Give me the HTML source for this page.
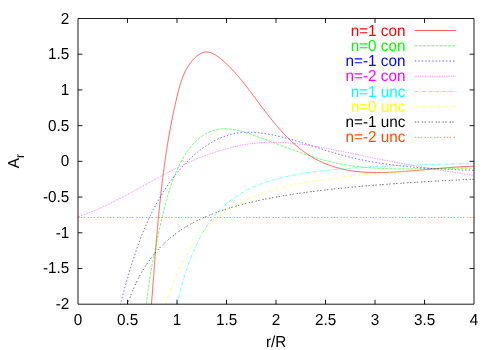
<!DOCTYPE html>
<html><head><meta charset="utf-8"><title>A_r vs r/R</title>
<style>html,body{margin:0;padding:0;background:#fff;}svg{display:block;will-change:transform;}text{font-family:"Liberation Sans",sans-serif;font-size:15.30px;text-rendering:geometricPrecision;}</style></head><body>
<svg width="500" height="350" viewBox="0 0 500 350">
<rect x="0" y="0" width="500" height="350" fill="#fff"/>
<defs><clipPath id="c"><rect x="78.00" y="18.50" width="396.00" height="285.70"/></clipPath></defs>
<g clip-path="url(#c)" fill="none" stroke-width="0.62" stroke-linejoin="round">
<path d="M150.87 311.99 L150.95 311.00 L151.03 310.01 L151.10 309.02 L151.18 308.03 L151.26 307.04 L151.33 306.05 L151.41 305.06 L151.49 304.06 L151.57 303.07 L151.64 302.08 L151.72 301.09 L151.79 300.10 L151.87 299.11 L151.95 298.12 L152.02 297.13 L152.10 296.14 L152.17 295.14 L152.25 294.15 L152.32 293.16 L152.40 292.17 L152.47 291.18 L152.55 290.19 L152.62 289.19 L152.70 288.20 L152.77 287.21 L152.85 286.22 L152.92 285.23 L153.00 284.23 L153.07 283.24 L153.15 282.25 L153.22 281.26 L153.30 280.26 L153.37 279.27 L153.45 278.28 L153.52 277.29 L153.60 276.30 L153.67 275.30 L153.75 274.31 L153.82 273.32 L153.90 272.33 L153.97 271.33 L154.05 270.34 L154.13 269.35 L154.20 268.36 L154.28 267.36 L154.35 266.37 L154.43 265.38 L154.51 264.38 L154.58 263.39 L154.66 262.40 L154.74 261.41 L154.81 260.41 L154.89 259.42 L154.97 258.43 L155.05 257.44 L155.13 256.44 L155.20 255.45 L155.28 254.46 L155.36 253.46 L155.44 252.47 L155.52 251.48 L155.60 250.49 L155.68 249.49 L155.76 248.50 L155.84 247.51 L155.92 246.52 L156.00 245.52 L156.08 244.53 L156.16 243.54 L156.25 242.55 L156.33 241.55 L156.41 240.56 L156.49 239.57 L156.58 238.58 L156.66 237.58 L156.75 236.59 L156.83 235.60 L156.92 234.61 L157.00 233.61 L157.09 232.62 L157.17 231.63 L157.26 230.64 L157.35 229.65 L157.44 228.65 L157.52 227.66 L157.61 226.67 L157.70 225.68 L157.79 224.69 L157.88 223.69 L157.97 222.70 L158.06 221.71 L158.16 220.72 L158.25 219.73 L158.34 218.74 L158.43 217.75 L158.53 216.75 L158.62 215.76 L158.72 214.77 L158.81 213.78 L158.91 212.79 L159.01 211.80 L159.10 210.81 L159.20 209.82 L159.30 208.83 L159.40 207.84 L159.50 206.84 L159.60 205.85 L159.70 204.86 L159.80 203.87 L159.91 202.88 L160.01 201.89 L160.11 200.90 L160.22 199.91 L160.32 198.92 L160.43 197.93 L160.54 196.94 L160.65 195.96 L160.75 194.97 L160.86 193.98 L160.97 192.99 L161.08 192.00 L161.20 191.01 L161.31 190.02 L161.42 189.03 L161.54 188.04 L161.65 187.05 L161.77 186.07 L161.88 185.08 L162.00 184.09 L162.12 183.10 L162.24 182.11 L162.36 181.13 L162.48 180.14 L162.60 179.15 L162.72 178.16 L162.84 177.18 L162.97 176.19 L163.09 175.20 L163.22 174.22 L163.35 173.23 L163.48 172.24 L163.60 171.26 L163.73 170.27 L163.87 169.28 L164.00 168.30 L164.13 167.31 L164.26 166.33 L164.40 165.34 L164.54 164.36 L164.67 163.37 L164.81 162.39 L164.95 161.40 L165.09 160.42 L165.23 159.43 L165.37 158.45 L165.52 157.46 L165.66 156.48 L165.81 155.50 L165.95 154.51 L166.10 153.53 L166.25 152.55 L166.40 151.56 L166.55 150.58 L166.70 149.60 L166.85 148.62 L167.01 147.63 L167.16 146.65 L167.32 145.67 L167.48 144.69 L167.64 143.71 L167.80 142.72 L167.96 141.74 L168.12 140.76 L168.29 139.78 L168.45 138.80 L168.62 137.82 L168.79 136.84 L168.96 135.86 L169.13 134.88 L169.30 133.90 L169.48 132.92 L169.65 131.95 L169.83 130.97 L170.01 129.99 L170.18 129.01 L170.37 128.03 L170.55 127.06 L170.73 126.08 L170.92 125.10 L171.10 124.13 L171.29 123.15 L171.48 122.17 L171.67 121.20 L171.86 120.22 L172.06 119.25 L172.25 118.27 L172.45 117.30 L172.65 116.32 L172.85 115.35 L173.05 114.38 L173.25 113.40 L173.46 112.43 L173.66 111.46 L173.87 110.48 L174.08 109.51 L174.29 108.54 L174.50 107.57 L174.72 106.60 L174.93 105.63 L175.15 104.66 L175.37 103.69 L175.59 102.72 L175.82 101.75 L176.04 100.78 L176.27 99.81 L176.49 98.84 L176.72 97.87 L176.96 96.91 L177.19 95.94 L177.42 94.97 L177.66 94.00 L177.90 93.04 L178.14 92.07 L178.39 91.11 L178.64 90.14 L178.89 89.18 L179.14 88.22 L179.41 87.26 L179.68 86.30 L179.95 85.35 L180.23 84.39 L180.52 83.44 L180.82 82.49 L181.13 81.54 L181.44 80.60 L181.77 79.66 L182.11 78.72 L182.46 77.79 L182.82 76.86 L183.19 75.93 L183.58 75.01 L183.98 74.09 L184.39 73.18 L184.82 72.27 L185.26 71.37 L185.72 70.47 L186.20 69.57 L186.69 68.69 L187.20 67.80 L187.73 66.93 L188.28 66.05 L188.85 65.19 L189.44 64.33 L190.04 63.48 L190.67 62.64 L191.32 61.80 L191.99 60.98 L192.68 60.18 L193.38 59.40 L194.10 58.63 L194.84 57.90 L195.58 57.19 L196.35 56.52 L197.12 55.88 L197.91 55.28 L198.71 54.72 L199.52 54.20 L200.33 53.73 L201.16 53.31 L201.99 52.94 L202.83 52.63 L203.67 52.38 L204.52 52.19 L205.37 52.06 L206.22 52.00 L207.07 52.01 L207.93 52.08 L208.79 52.22 L209.65 52.41 L210.50 52.65 L211.36 52.95 L212.22 53.29 L213.07 53.68 L213.92 54.11 L214.77 54.58 L215.62 55.09 L216.46 55.63 L217.30 56.20 L218.13 56.80 L218.96 57.42 L219.78 58.06 L220.60 58.72 L221.41 59.39 L222.21 60.08 L223.01 60.77 L223.80 61.47 L224.58 62.18 L225.35 62.88 L226.11 63.59 L226.86 64.30 L227.61 65.02 L228.35 65.73 L229.08 66.45 L229.81 67.18 L230.52 67.90 L231.23 68.63 L231.94 69.36 L232.63 70.09 L233.33 70.83 L234.01 71.56 L234.69 72.30 L235.36 73.05 L236.03 73.79 L236.69 74.54 L237.35 75.29 L238.00 76.04 L238.65 76.79 L239.29 77.54 L239.93 78.30 L240.56 79.06 L241.19 79.82 L241.82 80.58 L242.44 81.35 L243.06 82.11 L243.67 82.88 L244.29 83.65 L244.89 84.42 L245.50 85.20 L246.10 85.97 L246.70 86.75 L247.30 87.52 L247.90 88.30 L248.49 89.08 L249.09 89.86 L249.68 90.65 L250.27 91.43 L250.86 92.21 L251.45 93.00 L252.03 93.79 L252.62 94.58 L253.21 95.37 L253.79 96.16 L254.38 96.95 L254.96 97.74 L255.55 98.53 L256.14 99.33 L256.72 100.12 L257.31 100.92 L257.90 101.71 L258.49 102.51 L259.08 103.31 L259.68 104.10 L260.27 104.90 L260.87 105.70 L261.46 106.50 L262.06 107.30 L262.66 108.10 L263.27 108.89 L263.87 109.69 L264.48 110.49 L265.08 111.28 L265.69 112.08 L266.31 112.88 L266.92 113.67 L267.53 114.46 L268.15 115.25 L268.77 116.04 L269.39 116.83 L270.02 117.62 L270.64 118.41 L271.27 119.19 L271.90 119.97 L272.54 120.75 L273.17 121.53 L273.81 122.31 L274.45 123.08 L275.10 123.85 L275.74 124.62 L276.39 125.39 L277.04 126.15 L277.70 126.91 L278.36 127.67 L279.02 128.43 L279.68 129.18 L280.34 129.93 L281.01 130.67 L281.69 131.41 L282.36 132.15 L283.04 132.88 L283.72 133.61 L284.41 134.34 L285.10 135.06 L285.79 135.78 L286.48 136.49 L287.18 137.20 L287.88 137.90 L288.59 138.60 L289.30 139.29 L290.01 139.98 L290.73 140.67 L291.45 141.35 L292.18 142.02 L292.90 142.69 L293.64 143.35 L294.37 144.01 L295.11 144.66 L295.86 145.31 L296.61 145.95 L297.36 146.58 L298.11 147.21 L298.88 147.83 L299.64 148.44 L300.41 149.05 L301.19 149.65 L301.96 150.25 L302.75 150.84 L303.54 151.42 L304.33 151.99 L305.13 152.56 L305.93 153.12 L306.74 153.67 L307.56 154.22 L308.37 154.76 L309.20 155.29 L310.03 155.82 L310.87 156.34 L311.71 156.85 L312.56 157.35 L313.42 157.84 L314.28 158.33 L315.15 158.81 L316.02 159.28 L316.90 159.75 L317.79 160.21 L318.68 160.65 L319.58 161.10 L320.49 161.53 L321.40 161.95 L322.32 162.37 L323.24 162.78 L324.17 163.18 L325.10 163.57 L326.04 163.95 L326.97 164.32 L327.92 164.69 L328.86 165.04 L329.81 165.39 L330.76 165.73 L331.72 166.06 L332.68 166.38 L333.63 166.69 L334.59 166.99 L335.55 167.28 L336.52 167.56 L337.48 167.83 L338.44 168.10 L339.41 168.35 L340.38 168.60 L341.34 168.83 L342.31 169.06 L343.28 169.28 L344.25 169.49 L345.23 169.69 L346.20 169.89 L347.17 170.07 L348.15 170.25 L349.12 170.42 L350.10 170.59 L351.08 170.74 L352.05 170.89 L353.03 171.03 L354.01 171.16 L354.99 171.29 L355.97 171.41 L356.95 171.52 L357.94 171.63 L358.92 171.73 L359.90 171.82 L360.89 171.91 L361.87 171.99 L362.86 172.06 L363.84 172.13 L364.83 172.20 L365.82 172.25 L366.81 172.31 L367.79 172.35 L368.78 172.39 L369.77 172.43 L370.76 172.46 L371.75 172.49 L372.74 172.51 L373.73 172.53 L374.72 172.54 L375.71 172.55 L376.71 172.55 L377.70 172.55 L378.69 172.55 L379.68 172.54 L380.68 172.53 L381.67 172.51 L382.66 172.49 L383.65 172.47 L384.65 172.44 L385.64 172.41 L386.64 172.38 L387.63 172.35 L388.62 172.31 L389.62 172.27 L390.61 172.23 L391.60 172.18 L392.60 172.14 L393.59 172.09 L394.58 172.03 L395.58 171.98 L396.57 171.92 L397.57 171.87 L398.56 171.81 L399.55 171.74 L400.55 171.68 L401.54 171.61 L402.53 171.55 L403.53 171.48 L404.52 171.41 L405.51 171.34 L406.51 171.26 L407.50 171.19 L408.50 171.11 L409.49 171.03 L410.48 170.95 L411.48 170.87 L412.47 170.79 L413.46 170.71 L414.46 170.63 L415.45 170.54 L416.44 170.46 L417.44 170.37 L418.43 170.29 L419.43 170.20 L420.42 170.11 L421.41 170.02 L422.41 169.93 L423.40 169.84 L424.39 169.75 L425.39 169.66 L426.38 169.57 L427.37 169.48 L428.37 169.39 L429.36 169.30 L430.35 169.21 L431.35 169.12 L432.34 169.03 L433.33 168.94 L434.33 168.85 L435.32 168.76 L436.31 168.67 L437.31 168.58 L438.30 168.49 L439.29 168.40 L440.29 168.32 L441.28 168.23 L442.27 168.14 L443.27 168.06 L444.26 167.98 L445.25 167.89 L446.24 167.81 L447.24 167.73 L448.23 167.65 L449.22 167.57 L450.22 167.49 L451.21 167.41 L452.20 167.34 L453.19 167.27 L454.19 167.19 L455.18 167.12 L456.17 167.05 L457.17 166.99 L458.16 166.92 L459.15 166.86 L460.14 166.79 L461.14 166.73 L462.13 166.68 L463.12 166.62 L464.11 166.57 L465.11 166.51 L466.10 166.46 L467.09 166.42 L468.08 166.37 L469.08 166.33 L470.07 166.29 L471.06 166.25 L472.05 166.22 L473.04 166.18 L474.04 166.15 L475.03 166.13 L476.02 166.10 L477.01 166.08 L478.00 166.06 L479.00 166.05 L479.99 166.03" stroke="#ff0000"/>
<path d="M145.50 312.03 L145.57 311.24 L145.65 310.45 L145.73 309.66 L145.81 308.88 L145.89 308.09 L145.97 307.30 L146.06 306.51 L146.14 305.72 L146.23 304.94 L146.31 304.15 L146.40 303.36 L146.49 302.58 L146.58 301.79 L146.68 301.00 L146.77 300.22 L146.87 299.43 L146.96 298.64 L147.06 297.86 L147.16 297.07 L147.26 296.28 L147.36 295.50 L147.46 294.71 L147.57 293.93 L147.67 293.14 L147.78 292.36 L147.88 291.57 L147.99 290.79 L148.10 290.00 L148.21 289.22 L148.32 288.43 L148.44 287.65 L148.55 286.86 L148.66 286.08 L148.78 285.30 L148.90 284.51 L149.01 283.73 L149.13 282.95 L149.25 282.16 L149.37 281.38 L149.50 280.60 L149.62 279.81 L149.74 279.03 L149.87 278.25 L150.00 277.47 L150.12 276.68 L150.25 275.90 L150.38 275.12 L150.51 274.34 L150.64 273.56 L150.77 272.78 L150.91 271.99 L151.04 271.21 L151.18 270.43 L151.31 269.65 L151.45 268.87 L151.59 268.09 L151.72 267.31 L151.86 266.53 L152.00 265.75 L152.15 264.97 L152.29 264.19 L152.43 263.41 L152.57 262.63 L152.72 261.85 L152.86 261.07 L153.01 260.30 L153.16 259.52 L153.30 258.74 L153.45 257.96 L153.60 257.18 L153.75 256.41 L153.90 255.63 L154.05 254.85 L154.21 254.07 L154.36 253.30 L154.51 252.52 L154.67 251.74 L154.82 250.97 L154.98 250.19 L155.14 249.41 L155.29 248.64 L155.45 247.86 L155.61 247.09 L155.77 246.31 L155.93 245.53 L156.09 244.76 L156.25 243.98 L156.41 243.21 L156.58 242.44 L156.74 241.66 L156.90 240.89 L157.07 240.11 L157.23 239.34 L157.40 238.57 L157.56 237.79 L157.73 237.02 L157.90 236.25 L158.06 235.47 L158.23 234.70 L158.40 233.93 L158.57 233.16 L158.74 232.38 L158.91 231.61 L159.08 230.84 L159.25 230.07 L159.43 229.30 L159.60 228.53 L159.77 227.76 L159.94 226.98 L160.12 226.21 L160.29 225.44 L160.47 224.67 L160.64 223.90 L160.82 223.13 L160.99 222.37 L161.17 221.60 L161.34 220.83 L161.52 220.06 L161.70 219.29 L161.88 218.52 L162.05 217.75 L162.23 216.99 L162.41 216.22 L162.59 215.45 L162.77 214.68 L162.95 213.92 L163.14 213.15 L163.32 212.38 L163.50 211.62 L163.69 210.85 L163.87 210.09 L164.06 209.32 L164.25 208.56 L164.44 207.79 L164.63 207.03 L164.82 206.27 L165.02 205.51 L165.21 204.74 L165.41 203.98 L165.61 203.22 L165.81 202.46 L166.01 201.70 L166.22 200.94 L166.42 200.18 L166.63 199.42 L166.84 198.66 L167.05 197.91 L167.26 197.15 L167.48 196.39 L167.70 195.64 L167.92 194.88 L168.14 194.13 L168.36 193.37 L168.59 192.62 L168.82 191.87 L169.05 191.12 L169.29 190.37 L169.53 189.62 L169.77 188.87 L170.01 188.12 L170.26 187.37 L170.50 186.62 L170.76 185.88 L171.01 185.13 L171.27 184.38 L171.53 183.64 L171.80 182.90 L172.06 182.15 L172.33 181.41 L172.61 180.67 L172.89 179.93 L173.17 179.19 L173.45 178.46 L173.74 177.72 L174.03 176.98 L174.33 176.25 L174.63 175.51 L174.93 174.78 L175.24 174.05 L175.55 173.32 L175.87 172.58 L176.19 171.86 L176.51 171.13 L176.84 170.40 L177.17 169.67 L177.51 168.95 L177.85 168.22 L178.19 167.50 L178.54 166.78 L178.90 166.06 L179.26 165.34 L179.62 164.62 L179.99 163.90 L180.36 163.19 L180.74 162.47 L181.13 161.76 L181.51 161.05 L181.91 160.34 L182.31 159.63 L182.71 158.92 L183.12 158.21 L183.53 157.51 L183.95 156.80 L184.38 156.10 L184.81 155.41 L185.24 154.71 L185.68 154.02 L186.13 153.33 L186.58 152.65 L187.04 151.97 L187.50 151.30 L187.97 150.63 L188.45 149.97 L188.93 149.31 L189.41 148.65 L189.91 148.01 L190.41 147.36 L190.91 146.73 L191.42 146.10 L191.94 145.48 L192.46 144.87 L192.99 144.26 L193.53 143.66 L194.07 143.08 L194.62 142.49 L195.18 141.92 L195.74 141.36 L196.31 140.81 L196.88 140.26 L197.46 139.73 L198.05 139.20 L198.65 138.69 L199.25 138.19 L199.86 137.70 L200.48 137.22 L201.10 136.75 L201.73 136.29 L202.37 135.85 L203.01 135.41 L203.66 134.99 L204.32 134.59 L204.98 134.19 L205.65 133.81 L206.32 133.44 L207.00 133.09 L207.69 132.74 L208.38 132.41 L209.08 132.10 L209.78 131.80 L210.48 131.51 L211.19 131.23 L211.90 130.97 L212.62 130.73 L213.34 130.50 L214.06 130.28 L214.79 130.07 L215.52 129.89 L216.25 129.71 L216.99 129.55 L217.73 129.41 L218.47 129.28 L219.21 129.17 L219.95 129.07 L220.70 128.99 L221.44 128.92 L222.19 128.87 L222.94 128.83 L223.69 128.80 L224.45 128.79 L225.20 128.79 L225.96 128.81 L226.71 128.83 L227.47 128.87 L228.23 128.92 L228.99 128.98 L229.75 129.06 L230.52 129.14 L231.28 129.24 L232.04 129.34 L232.81 129.46 L233.57 129.59 L234.34 129.72 L235.11 129.87 L235.87 130.02 L236.64 130.18 L237.41 130.35 L238.18 130.53 L238.95 130.71 L239.72 130.91 L240.49 131.11 L241.26 131.31 L242.03 131.52 L242.80 131.74 L243.57 131.97 L244.34 132.20 L245.11 132.43 L245.88 132.67 L246.65 132.91 L247.42 133.16 L248.19 133.41 L248.96 133.67 L249.73 133.93 L250.50 134.19 L251.26 134.46 L252.03 134.72 L252.80 134.99 L253.56 135.26 L254.33 135.53 L255.09 135.81 L255.86 136.08 L256.62 136.35 L257.38 136.63 L258.14 136.90 L258.90 137.18 L259.66 137.46 L260.42 137.74 L261.18 138.02 L261.94 138.30 L262.69 138.58 L263.45 138.86 L264.21 139.14 L264.96 139.42 L265.72 139.70 L266.47 139.98 L267.22 140.27 L267.97 140.55 L268.73 140.83 L269.48 141.12 L270.23 141.40 L270.98 141.68 L271.73 141.97 L272.48 142.25 L273.23 142.54 L273.98 142.82 L274.73 143.11 L275.47 143.39 L276.22 143.68 L276.97 143.96 L277.72 144.24 L278.46 144.53 L279.21 144.81 L279.95 145.10 L280.70 145.38 L281.44 145.66 L282.19 145.94 L282.93 146.23 L283.68 146.51 L284.42 146.79 L285.17 147.07 L285.91 147.35 L286.65 147.63 L287.40 147.91 L288.14 148.19 L288.88 148.47 L289.63 148.74 L290.37 149.02 L291.11 149.30 L291.86 149.57 L292.60 149.84 L293.34 150.12 L294.08 150.39 L294.83 150.66 L295.57 150.93 L296.31 151.20 L297.05 151.47 L297.80 151.74 L298.54 152.00 L299.28 152.27 L300.03 152.53 L300.77 152.79 L301.51 153.05 L302.26 153.31 L303.00 153.57 L303.74 153.83 L304.49 154.09 L305.23 154.34 L305.98 154.59 L306.72 154.84 L307.47 155.09 L308.21 155.34 L308.96 155.59 L309.70 155.83 L310.45 156.08 L311.20 156.32 L311.94 156.56 L312.69 156.80 L313.44 157.03 L314.18 157.27 L314.93 157.50 L315.68 157.73 L316.43 157.96 L317.18 158.18 L317.93 158.41 L318.68 158.63 L319.43 158.85 L320.18 159.07 L320.94 159.28 L321.69 159.50 L322.44 159.71 L323.20 159.92 L323.95 160.12 L324.70 160.33 L325.46 160.53 L326.22 160.73 L326.97 160.92 L327.73 161.12 L328.49 161.31 L329.25 161.50 L330.01 161.69 L330.77 161.87 L331.53 162.05 L332.29 162.23 L333.05 162.41 L333.82 162.58 L334.58 162.75 L335.35 162.92 L336.11 163.08 L336.88 163.24 L337.65 163.40 L338.42 163.56 L339.18 163.71 L339.95 163.86 L340.72 164.01 L341.50 164.15 L342.27 164.29 L343.04 164.43 L343.81 164.57 L344.59 164.70 L345.36 164.84 L346.14 164.97 L346.92 165.09 L347.69 165.22 L348.47 165.34 L349.25 165.46 L350.03 165.57 L350.81 165.69 L351.59 165.80 L352.37 165.91 L353.15 166.01 L353.93 166.12 L354.72 166.22 L355.50 166.32 L356.28 166.42 L357.07 166.51 L357.85 166.61 L358.64 166.70 L359.43 166.79 L360.21 166.87 L361.00 166.96 L361.79 167.04 L362.58 167.12 L363.37 167.20 L364.15 167.28 L364.94 167.35 L365.73 167.42 L366.53 167.49 L367.32 167.56 L368.11 167.63 L368.90 167.69 L369.69 167.75 L370.49 167.81 L371.28 167.87 L372.07 167.93 L372.87 167.98 L373.66 168.04 L374.46 168.09 L375.25 168.14 L376.05 168.19 L376.84 168.23 L377.64 168.28 L378.44 168.32 L379.23 168.36 L380.03 168.40 L380.83 168.44 L381.62 168.48 L382.42 168.51 L383.22 168.54 L384.02 168.58 L384.82 168.61 L385.62 168.64 L386.42 168.66 L387.22 168.69 L388.02 168.72 L388.82 168.74 L389.62 168.76 L390.42 168.78 L391.22 168.80 L392.02 168.82 L392.82 168.84 L393.62 168.85 L394.42 168.87 L395.22 168.88 L396.02 168.89 L396.82 168.91 L397.62 168.92 L398.43 168.93 L399.23 168.93 L400.03 168.94 L400.83 168.95 L401.63 168.95 L402.44 168.96 L403.24 168.96 L404.04 168.96 L404.84 168.96 L405.64 168.96 L406.44 168.96 L407.25 168.96 L408.05 168.96 L408.85 168.96 L409.65 168.95 L410.45 168.95 L411.26 168.95 L412.06 168.94 L412.86 168.93 L413.66 168.93 L414.46 168.92 L415.26 168.91 L416.06 168.90 L416.87 168.89 L417.67 168.88 L418.47 168.87 L419.27 168.86 L420.07 168.85 L420.87 168.84 L421.67 168.83 L422.47 168.81 L423.27 168.80 L424.07 168.79 L424.87 168.77 L425.67 168.76 L426.46 168.75 L427.26 168.73 L428.06 168.72 L428.86 168.70 L429.66 168.69 L430.45 168.67 L431.25 168.66 L432.05 168.64 L432.85 168.62 L433.64 168.61 L434.44 168.59 L435.23 168.58 L436.03 168.56 L436.82 168.54 L437.62 168.53 L438.41 168.51 L439.21 168.50 L440.00 168.48 L440.79 168.47 L441.58 168.45 L442.38 168.44 L443.17 168.42 L443.96 168.41 L444.75 168.39 L445.54 168.38 L446.33 168.36 L447.12 168.35 L447.91 168.34 L448.70 168.32 L449.49 168.31 L450.27 168.30 L451.06 168.29 L451.85 168.28 L452.63 168.26 L453.42 168.25 L454.20 168.24 L454.99 168.23 L455.77 168.23 L456.55 168.22 L457.34 168.21 L458.12 168.20 L458.90 168.20 L459.68 168.19 L460.46 168.19 L461.24 168.18 L462.02 168.18 L462.79 168.18 L463.57 168.17 L464.35 168.17 L465.12 168.17 L465.90 168.17 L466.67 168.17 L467.45 168.18 L468.22 168.18 L468.99 168.18 L469.76 168.19 L470.54 168.19 L471.31 168.20 L472.07 168.21 L472.84 168.22 L473.61 168.23 L474.38 168.24 L475.14 168.25 L475.91 168.27 L476.67 168.28 L477.44 168.30 L478.20 168.31 L478.96 168.33 L479.72 168.35" stroke="#00ff00" stroke-dasharray="2.78,1.39"/>
<path d="M118.38 311.73 L118.57 310.99 L118.77 310.24 L118.97 309.50 L119.16 308.75 L119.36 308.01 L119.56 307.26 L119.76 306.52 L119.95 305.77 L120.15 305.02 L120.35 304.27 L120.55 303.52 L120.75 302.77 L120.95 302.02 L121.15 301.27 L121.35 300.52 L121.55 299.77 L121.75 299.02 L121.95 298.27 L122.15 297.52 L122.35 296.76 L122.56 296.01 L122.76 295.26 L122.96 294.50 L123.17 293.75 L123.37 293.00 L123.58 292.24 L123.78 291.49 L123.99 290.73 L124.20 289.97 L124.40 289.22 L124.61 288.46 L124.82 287.71 L125.03 286.95 L125.24 286.19 L125.45 285.44 L125.66 284.68 L125.87 283.92 L126.09 283.16 L126.30 282.41 L126.51 281.65 L126.73 280.89 L126.95 280.13 L127.16 279.38 L127.38 278.62 L127.60 277.86 L127.82 277.10 L128.04 276.34 L128.26 275.59 L128.48 274.83 L128.70 274.07 L128.93 273.31 L129.15 272.55 L129.38 271.80 L129.60 271.04 L129.83 270.28 L130.06 269.52 L130.29 268.77 L130.52 268.01 L130.75 267.25 L130.98 266.49 L131.22 265.74 L131.45 264.98 L131.69 264.22 L131.92 263.47 L132.16 262.71 L132.40 261.95 L132.64 261.20 L132.88 260.44 L133.13 259.69 L133.37 258.93 L133.61 258.18 L133.86 257.43 L134.11 256.67 L134.36 255.92 L134.61 255.17 L134.86 254.41 L135.11 253.66 L135.37 252.91 L135.62 252.16 L135.88 251.41 L136.14 250.65 L136.40 249.90 L136.66 249.15 L136.92 248.41 L137.18 247.66 L137.45 246.91 L137.71 246.16 L137.98 245.41 L138.25 244.67 L138.52 243.92 L138.79 243.18 L139.07 242.43 L139.34 241.69 L139.62 240.94 L139.90 240.20 L140.18 239.46 L140.46 238.71 L140.75 237.97 L141.03 237.23 L141.32 236.49 L141.61 235.75 L141.90 235.02 L142.19 234.28 L142.48 233.54 L142.78 232.81 L143.07 232.07 L143.37 231.34 L143.67 230.60 L143.98 229.87 L144.28 229.14 L144.59 228.41 L144.89 227.68 L145.20 226.95 L145.51 226.22 L145.83 225.49 L146.14 224.76 L146.46 224.04 L146.78 223.31 L147.10 222.59 L147.42 221.87 L147.75 221.14 L148.07 220.42 L148.40 219.70 L148.73 218.98 L149.07 218.27 L149.40 217.55 L149.74 216.83 L150.08 216.12 L150.42 215.41 L150.76 214.69 L151.11 213.98 L151.46 213.27 L151.81 212.56 L152.16 211.86 L152.51 211.15 L152.87 210.44 L153.23 209.74 L153.59 209.04 L153.95 208.33 L154.31 207.63 L154.68 206.93 L155.05 206.24 L155.42 205.54 L155.80 204.84 L156.17 204.15 L156.55 203.46 L156.93 202.76 L157.32 202.07 L157.70 201.39 L158.09 200.70 L158.48 200.01 L158.87 199.33 L159.27 198.64 L159.67 197.96 L160.07 197.28 L160.47 196.60 L160.88 195.92 L161.28 195.25 L161.69 194.57 L162.11 193.90 L162.52 193.23 L162.94 192.56 L163.36 191.89 L163.79 191.22 L164.21 190.56 L164.64 189.90 L165.07 189.23 L165.51 188.57 L165.94 187.91 L166.38 187.26 L166.82 186.60 L167.27 185.95 L167.72 185.30 L168.17 184.65 L168.62 184.00 L169.08 183.35 L169.53 182.70 L170.00 182.06 L170.46 181.42 L170.93 180.78 L171.40 180.14 L171.87 179.51 L172.34 178.87 L172.82 178.24 L173.31 177.61 L173.79 176.98 L174.28 176.35 L174.77 175.73 L175.26 175.10 L175.76 174.48 L176.26 173.86 L176.76 173.24 L177.26 172.63 L177.77 172.02 L178.28 171.40 L178.80 170.79 L179.32 170.19 L179.84 169.58 L180.36 168.98 L180.89 168.38 L181.42 167.78 L181.95 167.18 L182.49 166.59 L183.03 165.99 L183.57 165.41 L184.12 164.82 L184.66 164.23 L185.22 163.65 L185.77 163.07 L186.33 162.50 L186.89 161.93 L187.45 161.36 L188.02 160.79 L188.59 160.23 L189.16 159.67 L189.74 159.11 L190.31 158.56 L190.90 158.01 L191.48 157.46 L192.07 156.92 L192.66 156.38 L193.25 155.85 L193.85 155.32 L194.45 154.79 L195.05 154.27 L195.65 153.75 L196.26 153.23 L196.87 152.72 L197.48 152.22 L198.10 151.72 L198.72 151.22 L199.34 150.73 L199.96 150.24 L200.59 149.76 L201.22 149.28 L201.85 148.81 L202.48 148.34 L203.12 147.88 L203.76 147.42 L204.41 146.97 L205.05 146.52 L205.70 146.08 L206.35 145.64 L207.01 145.21 L207.66 144.79 L208.32 144.37 L208.98 143.95 L209.65 143.55 L210.32 143.14 L210.98 142.75 L211.66 142.36 L212.33 141.98 L213.01 141.60 L213.69 141.23 L214.37 140.86 L215.06 140.51 L215.74 140.15 L216.44 139.81 L217.13 139.47 L217.82 139.14 L218.52 138.82 L219.22 138.50 L219.92 138.19 L220.63 137.88 L221.34 137.59 L222.05 137.30 L222.76 137.02 L223.47 136.74 L224.19 136.48 L224.91 136.22 L225.63 135.97 L226.36 135.72 L227.08 135.49 L227.81 135.26 L228.54 135.04 L229.28 134.83 L230.01 134.62 L230.75 134.43 L231.49 134.24 L232.24 134.06 L232.98 133.89 L233.73 133.73 L234.48 133.57 L235.23 133.43 L235.99 133.29 L236.74 133.16 L237.50 133.05 L238.26 132.94 L239.03 132.83 L239.79 132.74 L240.56 132.66 L241.33 132.58 L242.10 132.51 L242.87 132.45 L243.65 132.40 L244.42 132.36 L245.20 132.32 L245.98 132.29 L246.76 132.27 L247.54 132.26 L248.33 132.25 L249.11 132.25 L249.90 132.26 L250.68 132.27 L251.47 132.29 L252.26 132.32 L253.05 132.35 L253.84 132.39 L254.63 132.44 L255.42 132.49 L256.21 132.55 L257.01 132.62 L257.80 132.69 L258.59 132.76 L259.39 132.84 L260.18 132.93 L260.98 133.02 L261.77 133.12 L262.57 133.22 L263.36 133.33 L264.16 133.44 L264.95 133.56 L265.75 133.68 L266.54 133.81 L267.34 133.94 L268.13 134.07 L268.92 134.21 L269.72 134.36 L270.51 134.50 L271.30 134.65 L272.09 134.81 L272.88 134.96 L273.67 135.13 L274.46 135.29 L275.25 135.46 L276.03 135.63 L276.82 135.80 L277.60 135.98 L278.39 136.16 L279.17 136.34 L279.95 136.52 L280.73 136.71 L281.51 136.90 L282.29 137.09 L283.06 137.29 L283.84 137.48 L284.61 137.68 L285.39 137.88 L286.16 138.09 L286.93 138.29 L287.71 138.50 L288.48 138.71 L289.25 138.93 L290.02 139.14 L290.78 139.36 L291.55 139.57 L292.32 139.79 L293.08 140.01 L293.85 140.24 L294.61 140.46 L295.38 140.69 L296.14 140.91 L296.90 141.14 L297.67 141.37 L298.43 141.60 L299.19 141.84 L299.95 142.07 L300.71 142.31 L301.47 142.54 L302.23 142.78 L302.99 143.02 L303.74 143.25 L304.50 143.49 L305.26 143.73 L306.02 143.98 L306.77 144.22 L307.53 144.46 L308.28 144.70 L309.04 144.95 L309.79 145.19 L310.55 145.43 L311.30 145.68 L312.06 145.92 L312.81 146.17 L313.57 146.41 L314.32 146.66 L315.07 146.90 L315.83 147.15 L316.58 147.39 L317.33 147.63 L318.09 147.88 L318.84 148.12 L319.59 148.37 L320.34 148.61 L321.10 148.85 L321.85 149.09 L322.60 149.34 L323.35 149.58 L324.11 149.82 L324.86 150.06 L325.61 150.30 L326.37 150.53 L327.12 150.77 L327.87 151.01 L328.63 151.24 L329.38 151.48 L330.13 151.71 L330.89 151.94 L331.64 152.17 L332.40 152.40 L333.15 152.63 L333.91 152.85 L334.66 153.08 L335.42 153.30 L336.18 153.52 L336.93 153.74 L337.69 153.96 L338.45 154.17 L339.21 154.39 L339.96 154.60 L340.72 154.81 L341.48 155.02 L342.24 155.22 L343.00 155.43 L343.76 155.63 L344.52 155.83 L345.29 156.03 L346.05 156.23 L346.81 156.42 L347.57 156.61 L348.34 156.80 L349.10 156.99 L349.87 157.18 L350.63 157.37 L351.40 157.55 L352.16 157.73 L352.93 157.91 L353.69 158.09 L354.46 158.27 L355.23 158.44 L356.00 158.61 L356.76 158.78 L357.53 158.95 L358.30 159.12 L359.07 159.29 L359.84 159.45 L360.61 159.61 L361.38 159.77 L362.15 159.93 L362.92 160.09 L363.69 160.24 L364.47 160.40 L365.24 160.55 L366.01 160.70 L366.78 160.85 L367.56 161.00 L368.33 161.14 L369.11 161.29 L369.88 161.43 L370.65 161.57 L371.43 161.71 L372.21 161.85 L372.98 161.98 L373.76 162.12 L374.53 162.25 L375.31 162.38 L376.09 162.51 L376.86 162.64 L377.64 162.77 L378.42 162.89 L379.20 163.02 L379.98 163.14 L380.76 163.26 L381.53 163.38 L382.31 163.50 L383.09 163.61 L383.87 163.73 L384.65 163.84 L385.43 163.96 L386.21 164.07 L387.00 164.18 L387.78 164.29 L388.56 164.39 L389.34 164.50 L390.12 164.60 L390.90 164.71 L391.69 164.81 L392.47 164.91 L393.25 165.01 L394.04 165.11 L394.82 165.20 L395.60 165.30 L396.39 165.39 L397.17 165.49 L397.95 165.58 L398.74 165.67 L399.52 165.76 L400.31 165.85 L401.09 165.93 L401.88 166.02 L402.66 166.10 L403.45 166.19 L404.24 166.27 L405.02 166.35 L405.81 166.43 L406.60 166.51 L407.38 166.59 L408.17 166.66 L408.96 166.74 L409.74 166.82 L410.53 166.89 L411.32 166.96 L412.10 167.03 L412.89 167.10 L413.68 167.17 L414.47 167.24 L415.26 167.31 L416.04 167.38 L416.83 167.44 L417.62 167.51 L418.41 167.57 L419.20 167.63 L419.99 167.69 L420.78 167.76 L421.56 167.82 L422.35 167.87 L423.14 167.93 L423.93 167.99 L424.72 168.05 L425.51 168.10 L426.30 168.16 L427.09 168.21 L427.88 168.26 L428.67 168.32 L429.46 168.37 L430.25 168.42 L431.04 168.47 L431.83 168.52 L432.62 168.56 L433.41 168.61 L434.20 168.66 L434.99 168.70 L435.78 168.75 L436.57 168.79 L437.36 168.84 L438.15 168.88 L438.94 168.92 L439.73 168.97 L440.52 169.01 L441.31 169.05 L442.10 169.09 L442.90 169.13 L443.69 169.16 L444.48 169.20 L445.27 169.24 L446.06 169.28 L446.85 169.31 L447.64 169.35 L448.43 169.38 L449.22 169.42 L450.01 169.45 L450.80 169.48 L451.59 169.52 L452.38 169.55 L453.17 169.58 L453.96 169.61 L454.75 169.64 L455.54 169.67 L456.33 169.70 L457.12 169.73 L457.91 169.76 L458.70 169.79 L459.49 169.82 L460.28 169.85 L461.07 169.87 L461.86 169.90 L462.65 169.93 L463.44 169.95 L464.23 169.98 L465.02 170.01 L465.81 170.03 L466.60 170.06 L467.39 170.08 L468.18 170.11 L468.96 170.13 L469.75 170.15 L470.54 170.18 L471.33 170.20 L472.12 170.22 L472.91 170.24 L473.70 170.27 L474.48 170.29 L475.27 170.31 L476.06 170.33 L476.85 170.35 L477.63 170.38 L478.42 170.40 L479.21 170.42 L480.00 170.44" stroke="#0000ff" stroke-dasharray="1.39,2.08"/>
<path d="M77.72 216.88 L78.40 216.65 L79.08 216.43 L79.75 216.20 L80.42 215.96 L81.09 215.73 L81.76 215.49 L82.43 215.26 L83.10 215.02 L83.77 214.77 L84.43 214.53 L85.10 214.28 L85.76 214.03 L86.42 213.78 L87.08 213.53 L87.74 213.28 L88.40 213.02 L89.06 212.76 L89.72 212.51 L90.38 212.24 L91.03 211.98 L91.68 211.72 L92.34 211.45 L92.99 211.18 L93.64 210.91 L94.29 210.64 L94.94 210.37 L95.59 210.09 L96.24 209.81 L96.88 209.54 L97.53 209.26 L98.18 208.98 L98.82 208.69 L99.46 208.41 L100.11 208.12 L100.75 207.83 L101.39 207.55 L102.03 207.26 L102.67 206.96 L103.31 206.67 L103.95 206.38 L104.58 206.08 L105.22 205.78 L105.85 205.49 L106.49 205.19 L107.12 204.89 L107.76 204.58 L108.39 204.28 L109.02 203.97 L109.65 203.67 L110.29 203.36 L110.92 203.05 L111.55 202.74 L112.18 202.43 L112.80 202.12 L113.43 201.81 L114.06 201.50 L114.69 201.18 L115.31 200.87 L115.94 200.55 L116.56 200.23 L117.19 199.91 L117.81 199.59 L118.44 199.27 L119.06 198.95 L119.68 198.63 L120.31 198.31 L120.93 197.99 L121.55 197.66 L122.17 197.34 L122.79 197.01 L123.41 196.68 L124.03 196.36 L124.65 196.03 L125.27 195.70 L125.89 195.37 L126.51 195.04 L127.13 194.71 L127.75 194.38 L128.37 194.05 L128.98 193.71 L129.60 193.38 L130.22 193.05 L130.83 192.71 L131.45 192.38 L132.07 192.04 L132.68 191.71 L133.30 191.37 L133.92 191.04 L134.53 190.70 L135.15 190.36 L135.76 190.03 L136.38 189.69 L136.99 189.35 L137.61 189.01 L138.22 188.68 L138.84 188.34 L139.45 188.00 L140.07 187.66 L140.68 187.32 L141.30 186.98 L141.91 186.64 L142.53 186.31 L143.14 185.97 L143.76 185.63 L144.37 185.29 L144.99 184.95 L145.60 184.61 L146.22 184.27 L146.83 183.93 L147.45 183.59 L148.06 183.25 L148.68 182.91 L149.29 182.58 L149.91 182.24 L150.52 181.90 L151.14 181.56 L151.76 181.22 L152.37 180.88 L152.99 180.55 L153.60 180.21 L154.22 179.87 L154.84 179.54 L155.46 179.20 L156.07 178.86 L156.69 178.53 L157.31 178.19 L157.93 177.86 L158.55 177.52 L159.17 177.19 L159.79 176.86 L160.40 176.52 L161.02 176.19 L161.65 175.86 L162.27 175.53 L162.89 175.20 L163.51 174.87 L164.13 174.54 L164.75 174.21 L165.38 173.88 L166.00 173.55 L166.62 173.23 L167.25 172.90 L167.87 172.58 L168.50 172.25 L169.12 171.93 L169.75 171.61 L170.38 171.28 L171.00 170.96 L171.63 170.64 L172.26 170.32 L172.89 170.00 L173.52 169.69 L174.15 169.37 L174.78 169.06 L175.41 168.74 L176.04 168.43 L176.67 168.12 L177.31 167.80 L177.94 167.49 L178.58 167.18 L179.21 166.88 L179.85 166.57 L180.49 166.26 L181.12 165.96 L181.76 165.66 L182.40 165.35 L183.04 165.05 L183.68 164.75 L184.32 164.45 L184.96 164.16 L185.60 163.86 L186.25 163.57 L186.89 163.27 L187.54 162.98 L188.18 162.69 L188.83 162.40 L189.47 162.11 L190.12 161.83 L190.77 161.54 L191.41 161.26 L192.06 160.98 L192.71 160.70 L193.36 160.42 L194.01 160.14 L194.66 159.86 L195.31 159.59 L195.97 159.31 L196.62 159.04 L197.27 158.77 L197.93 158.50 L198.58 158.24 L199.24 157.97 L199.89 157.71 L200.55 157.45 L201.21 157.19 L201.86 156.93 L202.52 156.67 L203.18 156.42 L203.84 156.16 L204.50 155.91 L205.16 155.66 L205.82 155.41 L206.48 155.17 L207.14 154.92 L207.81 154.68 L208.47 154.44 L209.13 154.20 L209.80 153.96 L210.46 153.73 L211.13 153.49 L211.79 153.26 L212.46 153.03 L213.12 152.81 L213.79 152.58 L214.46 152.36 L215.13 152.14 L215.79 151.92 L216.46 151.70 L217.13 151.48 L217.80 151.27 L218.47 151.06 L219.14 150.85 L219.81 150.64 L220.49 150.44 L221.16 150.23 L221.83 150.03 L222.50 149.84 L223.18 149.64 L223.85 149.45 L224.53 149.25 L225.20 149.06 L225.88 148.88 L226.55 148.69 L227.23 148.51 L227.90 148.33 L228.58 148.15 L229.26 147.98 L229.94 147.80 L230.61 147.63 L231.29 147.46 L231.97 147.30 L232.65 147.13 L233.33 146.97 L234.01 146.81 L234.69 146.66 L235.37 146.50 L236.05 146.35 L236.73 146.20 L237.41 146.06 L238.10 145.91 L238.78 145.77 L239.46 145.63 L240.15 145.50 L240.83 145.36 L241.51 145.23 L242.20 145.11 L242.88 144.98 L243.57 144.86 L244.25 144.74 L244.94 144.62 L245.62 144.51 L246.31 144.39 L247.00 144.28 L247.68 144.18 L248.37 144.07 L249.06 143.97 L249.74 143.88 L250.43 143.78 L251.12 143.69 L251.81 143.60 L252.50 143.51 L253.19 143.43 L253.87 143.35 L254.56 143.27 L255.25 143.20 L255.94 143.12 L256.63 143.06 L257.32 142.99 L258.02 142.93 L258.71 142.87 L259.40 142.81 L260.09 142.76 L260.78 142.71 L261.47 142.66 L262.16 142.61 L262.86 142.57 L263.55 142.53 L264.24 142.50 L264.93 142.47 L265.63 142.44 L266.32 142.41 L267.01 142.39 L267.71 142.37 L268.40 142.35 L269.10 142.33 L269.79 142.32 L270.48 142.31 L271.18 142.30 L271.87 142.30 L272.57 142.29 L273.26 142.30 L273.96 142.30 L274.65 142.30 L275.35 142.31 L276.05 142.32 L276.74 142.34 L277.44 142.35 L278.13 142.37 L278.83 142.39 L279.53 142.42 L280.22 142.44 L280.92 142.47 L281.62 142.50 L282.31 142.53 L283.01 142.57 L283.71 142.61 L284.41 142.65 L285.10 142.69 L285.80 142.73 L286.50 142.78 L287.20 142.83 L287.90 142.88 L288.59 142.93 L289.29 142.99 L289.99 143.04 L290.69 143.10 L291.39 143.17 L292.08 143.23 L292.78 143.29 L293.48 143.36 L294.18 143.43 L294.88 143.50 L295.58 143.57 L296.28 143.65 L296.98 143.72 L297.68 143.80 L298.37 143.88 L299.07 143.97 L299.77 144.05 L300.47 144.13 L301.17 144.22 L301.87 144.31 L302.57 144.40 L303.27 144.49 L303.97 144.59 L304.67 144.68 L305.37 144.78 L306.07 144.88 L306.77 144.98 L307.47 145.08 L308.17 145.18 L308.87 145.28 L309.57 145.39 L310.27 145.50 L310.96 145.61 L311.66 145.72 L312.36 145.83 L313.06 145.94 L313.76 146.05 L314.46 146.17 L315.16 146.28 L315.86 146.40 L316.56 146.52 L317.26 146.64 L317.96 146.76 L318.66 146.88 L319.36 147.00 L320.06 147.13 L320.76 147.25 L321.46 147.38 L322.16 147.50 L322.86 147.63 L323.55 147.76 L324.25 147.89 L324.95 148.02 L325.65 148.15 L326.35 148.29 L327.05 148.42 L327.75 148.55 L328.45 148.69 L329.14 148.82 L329.84 148.96 L330.54 149.10 L331.24 149.23 L331.94 149.37 L332.64 149.51 L333.33 149.65 L334.03 149.79 L334.73 149.93 L335.43 150.07 L336.12 150.21 L336.82 150.35 L337.52 150.50 L338.22 150.64 L338.91 150.78 L339.61 150.93 L340.31 151.07 L341.00 151.22 L341.70 151.36 L342.40 151.51 L343.09 151.65 L343.79 151.80 L344.49 151.94 L345.18 152.09 L345.88 152.23 L346.57 152.38 L347.27 152.53 L347.96 152.67 L348.66 152.82 L349.35 152.97 L350.05 153.11 L350.74 153.26 L351.44 153.41 L352.13 153.55 L352.82 153.70 L353.52 153.85 L354.21 153.99 L354.90 154.14 L355.60 154.29 L356.29 154.43 L356.98 154.58 L357.68 154.72 L358.37 154.87 L359.06 155.01 L359.75 155.16 L360.44 155.30 L361.14 155.45 L361.83 155.59 L362.52 155.73 L363.21 155.88 L363.90 156.02 L364.59 156.16 L365.28 156.30 L365.97 156.45 L366.66 156.59 L367.35 156.73 L368.04 156.87 L368.73 157.01 L369.42 157.15 L370.11 157.29 L370.79 157.43 L371.48 157.57 L372.17 157.71 L372.86 157.85 L373.55 157.98 L374.24 158.12 L374.92 158.26 L375.61 158.40 L376.30 158.53 L376.99 158.67 L377.67 158.81 L378.36 158.94 L379.05 159.08 L379.73 159.21 L380.42 159.35 L381.11 159.48 L381.79 159.62 L382.48 159.75 L383.17 159.89 L383.85 160.02 L384.54 160.15 L385.23 160.29 L385.91 160.42 L386.60 160.55 L387.28 160.68 L387.97 160.82 L388.66 160.95 L389.34 161.08 L390.03 161.21 L390.71 161.34 L391.40 161.47 L392.08 161.60 L392.77 161.73 L393.45 161.86 L394.14 161.99 L394.83 162.12 L395.51 162.25 L396.20 162.38 L396.88 162.50 L397.57 162.63 L398.25 162.76 L398.94 162.89 L399.62 163.01 L400.31 163.14 L400.99 163.27 L401.68 163.39 L402.36 163.52 L403.05 163.65 L403.73 163.77 L404.42 163.90 L405.11 164.02 L405.79 164.15 L406.48 164.27 L407.16 164.40 L407.85 164.52 L408.53 164.65 L409.22 164.77 L409.90 164.89 L410.59 165.02 L411.28 165.14 L411.96 165.26 L412.65 165.38 L413.33 165.51 L414.02 165.63 L414.71 165.75 L415.39 165.87 L416.08 165.99 L416.77 166.11 L417.45 166.23 L418.14 166.35 L418.83 166.48 L419.51 166.60 L420.20 166.72 L420.89 166.84 L421.57 166.95 L422.26 167.07 L422.95 167.19 L423.64 167.31 L424.32 167.43 L425.01 167.55 L425.70 167.67 L426.39 167.78 L427.08 167.90 L427.76 168.02 L428.45 168.14 L429.14 168.25 L429.83 168.37 L430.52 168.49 L431.21 168.60 L431.90 168.72 L432.59 168.84 L433.28 168.95 L433.97 169.07 L434.66 169.18 L435.35 169.30 L436.04 169.42 L436.73 169.53 L437.42 169.64 L438.11 169.76 L438.81 169.87 L439.50 169.99 L440.19 170.10 L440.88 170.22 L441.57 170.33 L442.27 170.44 L442.96 170.56 L443.65 170.67 L444.35 170.78 L445.04 170.90 L445.73 171.01 L446.43 171.12 L447.12 171.23 L447.82 171.34 L448.51 171.46 L449.21 171.57 L449.90 171.68 L450.60 171.79 L451.30 171.90 L451.99 172.01 L452.69 172.12 L453.39 172.23 L454.08 172.35 L454.78 172.46 L455.48 172.57 L456.18 172.68 L456.88 172.79 L457.57 172.90 L458.27 173.01 L458.97 173.12 L459.67 173.22 L460.37 173.33 L461.07 173.44 L461.78 173.55 L462.48 173.66 L463.18 173.77 L463.88 173.88 L464.58 173.99 L465.29 174.09 L465.99 174.20 L466.69 174.31 L467.40 174.42 L468.10 174.53 L468.81 174.63 L469.51 174.74 L470.22 174.85 L470.92 174.96 L471.63 175.06 L472.33 175.17 L473.04 175.28 L473.75 175.38 L474.46 175.49 L475.17 175.60 L475.87 175.70 L476.58 175.81 L477.29 175.91 L478.00 176.02 L478.71 176.13 L479.42 176.23 L480.14 176.34" stroke="#ff00ff" stroke-dasharray="0.69,1.04"/>
<path d="M107.70 5452.09 L108.43 5078.41 L109.17 4739.11 L109.90 4430.33 L110.64 4148.70 L111.37 3891.31 L112.10 3655.60 L112.84 3439.35 L113.57 3240.57 L114.31 3057.55 L115.04 2888.75 L115.77 2732.82 L116.51 2588.55 L117.24 2454.87 L117.98 2330.84 L118.71 2215.58 L119.45 2108.35 L120.18 2008.46 L120.91 1915.28 L121.65 1828.27 L122.38 1746.91 L123.12 1670.77 L123.85 1599.43 L124.58 1532.51 L125.32 1469.68 L126.05 1410.63 L126.79 1355.08 L127.52 1302.78 L128.25 1253.48 L128.99 1206.99 L129.72 1163.10 L130.46 1121.63 L131.19 1082.42 L131.92 1045.31 L132.66 1010.17 L133.39 976.87 L134.13 945.29 L134.86 915.32 L135.59 886.86 L136.33 859.81 L137.06 834.09 L137.80 809.61 L138.53 786.31 L139.26 764.12 L140.00 742.96 L140.73 722.78 L141.47 703.52 L142.20 685.14 L142.94 667.58 L143.67 650.79 L144.40 634.74 L145.14 619.38 L145.87 604.68 L146.61 590.60 L147.34 577.11 L148.07 564.18 L148.81 551.78 L149.54 539.88 L150.28 528.47 L151.01 517.50 L151.74 506.97 L152.48 496.86 L153.21 487.13 L153.95 477.77 L154.68 468.77 L155.41 460.11 L156.15 451.77 L156.88 443.74 L157.62 436.00 L158.35 428.54 L159.08 421.35 L159.82 414.41 L160.55 407.72 L161.29 401.26 L162.02 395.03 L162.76 389.01 L163.49 383.20 L164.22 377.58 L164.96 372.15 L165.69 366.90 L166.43 361.82 L167.16 356.91 L167.89 352.16 L168.63 347.56 L169.36 343.11 L170.10 338.80 L170.83 334.62 L171.56 330.57 L172.30 326.65 L173.03 322.85 L173.77 319.17 L174.50 315.59 L175.23 312.12 L175.97 308.76 L176.70 305.50 L177.44 302.33 L178.17 299.25 L178.90 296.26 L179.64 293.36 L180.37 290.54 L181.11 287.80 L181.84 285.14 L182.57 282.55 L183.31 280.03 L184.04 277.59 L184.78 275.20 L185.51 272.89 L186.25 270.63 L186.98 268.44 L187.71 266.31 L188.45 264.23 L189.18 262.20 L189.92 260.23 L190.65 258.31 L191.38 256.44 L192.12 254.62 L192.85 252.84 L193.59 251.11 L194.32 249.42 L195.05 247.77 L195.79 246.17 L196.52 244.60 L197.26 243.07 L197.99 241.58 L198.72 240.13 L199.46 238.71 L200.19 237.32 L200.93 235.97 L201.66 234.65 L202.39 233.36 L203.13 232.10 L203.86 230.87 L204.60 229.66 L205.33 228.49 L206.07 227.34 L206.80 226.22 L207.53 225.12 L208.27 224.05 L209.00 223.00 L209.74 221.98 L210.47 220.98 L211.20 220.00 L211.94 219.04 L212.67 218.10 L213.41 217.18 L214.14 216.28 L214.87 215.40 L215.61 214.54 L216.34 213.70 L217.08 212.88 L217.81 212.07 L218.54 211.28 L219.28 210.50 L220.01 209.75 L220.75 209.00 L221.48 208.28 L222.21 207.56 L222.95 206.86 L223.68 206.18 L224.42 205.51 L225.15 204.85 L225.88 204.21 L226.62 203.57 L227.35 202.95 L228.09 202.35 L228.82 201.75 L229.56 201.17 L230.29 200.59 L231.02 200.03 L231.76 199.48 L232.49 198.94 L233.23 198.41 L233.96 197.89 L234.69 197.38 L235.43 196.88 L236.16 196.38 L236.90 195.90 L237.63 195.43 L238.36 194.96 L239.10 194.50 L239.83 194.05 L240.57 193.61 L241.30 193.18 L242.03 192.75 L242.77 192.34 L243.50 191.93 L244.24 191.52 L244.97 191.13 L245.70 190.74 L246.44 190.35 L247.17 189.98 L247.91 189.61 L248.64 189.25 L249.38 188.89 L250.11 188.54 L250.84 188.19 L251.58 187.85 L252.31 187.52 L253.05 187.19 L253.78 186.87 L254.51 186.55 L255.25 186.24 L255.98 185.93 L256.72 185.63 L257.45 185.34 L258.18 185.04 L258.92 184.76 L259.65 184.47 L260.39 184.20 L261.12 183.92 L261.85 183.65 L262.59 183.39 L263.32 183.13 L264.06 182.87 L264.79 182.62 L265.52 182.37 L266.26 182.12 L266.99 181.88 L267.73 181.65 L268.46 181.41 L269.19 181.18 L269.93 180.95 L270.66 180.73 L271.40 180.51 L272.13 180.30 L272.87 180.08 L273.60 179.87 L274.33 179.66 L275.07 179.46 L275.80 179.26 L276.54 179.06 L277.27 178.87 L278.00 178.67 L278.74 178.49 L279.47 178.30 L280.21 178.12 L280.94 177.93 L281.67 177.76 L282.41 177.58 L283.14 177.41 L283.88 177.23 L284.61 177.07 L285.34 176.90 L286.08 176.74 L286.81 176.57 L287.55 176.41 L288.28 176.26 L289.01 176.10 L289.75 175.95 L290.48 175.80 L291.22 175.65 L291.95 175.50 L292.69 175.36 L293.42 175.22 L294.15 175.07 L294.89 174.94 L295.62 174.80 L296.36 174.66 L297.09 174.53 L297.82 174.40 L298.56 174.27 L299.29 174.14 L300.03 174.01 L300.76 173.89 L301.49 173.77 L302.23 173.64 L302.96 173.52 L303.70 173.41 L304.43 173.29 L305.16 173.17 L305.90 173.06 L306.63 172.95 L307.37 172.84 L308.10 172.73 L308.83 172.62 L309.57 172.51 L310.30 172.41 L311.04 172.30 L311.77 172.20 L312.51 172.10 L313.24 172.00 L313.97 171.90 L314.71 171.80 L315.44 171.70 L316.18 171.61 L316.91 171.51 L317.64 171.42 L318.38 171.33 L319.11 171.24 L319.85 171.15 L320.58 171.06 L321.31 170.97 L322.05 170.89 L322.78 170.80 L323.52 170.72 L324.25 170.63 L324.98 170.55 L325.72 170.47 L326.45 170.39 L327.19 170.31 L327.92 170.23 L328.65 170.15 L329.39 170.07 L330.12 170.00 L330.86 169.92 L331.59 169.85 L332.32 169.78 L333.06 169.70 L333.79 169.63 L334.53 169.56 L335.26 169.49 L336.00 169.42 L336.73 169.35 L337.46 169.29 L338.20 169.22 L338.93 169.15 L339.67 169.09 L340.40 169.02 L341.13 168.96 L341.87 168.89 L342.60 168.83 L343.34 168.77 L344.07 168.71 L344.80 168.65 L345.54 168.59 L346.27 168.53 L347.01 168.47 L347.74 168.41 L348.47 168.35 L349.21 168.30 L349.94 168.24 L350.68 168.19 L351.41 168.13 L352.14 168.08 L352.88 168.02 L353.61 167.97 L354.35 167.92 L355.08 167.87 L355.82 167.81 L356.55 167.76 L357.28 167.71 L358.02 167.66 L358.75 167.61 L359.49 167.56 L360.22 167.52 L360.95 167.47 L361.69 167.42 L362.42 167.37 L363.16 167.33 L363.89 167.28 L364.62 167.24 L365.36 167.19 L366.09 167.15 L366.83 167.10 L367.56 167.06 L368.29 167.02 L369.03 166.97 L369.76 166.93 L370.50 166.89 L371.23 166.85 L371.96 166.81 L372.70 166.77 L373.43 166.73 L374.17 166.69 L374.90 166.65 L375.63 166.61 L376.37 166.57 L377.10 166.53 L377.84 166.49 L378.57 166.45 L379.31 166.42 L380.04 166.38 L380.77 166.34 L381.51 166.31 L382.24 166.27 L382.98 166.24 L383.71 166.20 L384.44 166.17 L385.18 166.13 L385.91 166.10 L386.65 166.06 L387.38 166.03 L388.11 166.00 L388.85 165.96 L389.58 165.93 L390.32 165.90 L391.05 165.87 L391.78 165.84 L392.52 165.80 L393.25 165.77 L393.99 165.74 L394.72 165.71 L395.45 165.68 L396.19 165.65 L396.92 165.62 L397.66 165.59 L398.39 165.56 L399.13 165.54 L399.86 165.51 L400.59 165.48 L401.33 165.45 L402.06 165.42 L402.80 165.40 L403.53 165.37 L404.26 165.34 L405.00 165.31 L405.73 165.29 L406.47 165.26 L407.20 165.24 L407.93 165.21 L408.67 165.18 L409.40 165.16 L410.14 165.13 L410.87 165.11 L411.60 165.08 L412.34 165.06 L413.07 165.03 L413.81 165.01 L414.54 164.99 L415.27 164.96 L416.01 164.94 L416.74 164.92 L417.48 164.89 L418.21 164.87 L418.94 164.85 L419.68 164.82 L420.41 164.80 L421.15 164.78 L421.88 164.76 L422.62 164.74 L423.35 164.72 L424.08 164.69 L424.82 164.67 L425.55 164.65 L426.29 164.63 L427.02 164.61 L427.75 164.59 L428.49 164.57 L429.22 164.55 L429.96 164.53 L430.69 164.51 L431.42 164.49 L432.16 164.47 L432.89 164.45 L433.63 164.43 L434.36 164.41 L435.09 164.39 L435.83 164.38 L436.56 164.36 L437.30 164.34 L438.03 164.32 L438.76 164.30 L439.50 164.28 L440.23 164.27 L440.97 164.25 L441.70 164.23 L442.44 164.21 L443.17 164.20 L443.90 164.18 L444.64 164.16 L445.37 164.15 L446.11 164.13 L446.84 164.11 L447.57 164.10 L448.31 164.08 L449.04 164.06 L449.78 164.05 L450.51 164.03 L451.24 164.02 L451.98 164.00 L452.71 163.98 L453.45 163.97 L454.18 163.95 L454.91 163.94 L455.65 163.92 L456.38 163.91 L457.12 163.89 L457.85 163.88 L458.58 163.86 L459.32 163.85 L460.05 163.84 L460.79 163.82 L461.52 163.81 L462.25 163.79 L462.99 163.78 L463.72 163.77 L464.46 163.75 L465.19 163.74 L465.93 163.72 L466.66 163.71 L467.39 163.70 L468.13 163.68 L468.86 163.67 L469.60 163.66 L470.33 163.65 L471.06 163.63 L471.80 163.62 L472.53 163.61 L473.27 163.59 L474.00 163.58" stroke="#00ffff" stroke-dasharray="3.47,1.39,0.69,1.39"/>
<path d="M107.70 1407.95 L108.43 1348.54 L109.17 1293.28 L109.90 1241.79 L110.64 1193.73 L111.37 1148.81 L112.10 1106.76 L112.84 1067.34 L113.57 1030.33 L114.31 995.55 L115.04 962.81 L115.77 931.96 L116.51 902.87 L117.24 875.38 L117.98 849.40 L118.71 824.81 L119.45 801.52 L120.18 779.43 L120.91 758.47 L121.65 738.55 L122.38 719.61 L123.12 701.59 L123.85 684.43 L124.58 668.08 L125.32 652.48 L126.05 637.59 L126.79 623.36 L127.52 609.77 L128.25 596.76 L128.99 584.32 L129.72 572.39 L130.46 560.97 L131.19 550.02 L131.92 539.51 L132.66 529.42 L133.39 519.73 L134.13 510.41 L134.86 501.46 L135.59 492.85 L136.33 484.55 L137.06 476.57 L137.80 468.88 L138.53 461.46 L139.26 454.32 L140.00 447.42 L140.73 440.76 L141.47 434.34 L142.20 428.13 L142.94 422.13 L143.67 416.34 L144.40 410.73 L145.14 405.31 L145.87 400.06 L146.61 394.98 L147.34 390.06 L148.07 385.29 L148.81 380.67 L149.54 376.19 L150.28 371.85 L151.01 367.64 L151.74 363.55 L152.48 359.59 L153.21 355.74 L153.95 352.00 L154.68 348.36 L155.41 344.83 L156.15 341.40 L156.88 338.07 L157.62 334.82 L158.35 331.67 L159.08 328.60 L159.82 325.61 L160.55 322.70 L161.29 319.87 L162.02 317.11 L162.76 314.43 L163.49 311.81 L164.22 309.26 L164.96 306.77 L165.69 304.35 L166.43 301.98 L167.16 299.68 L167.89 297.43 L168.63 295.23 L169.36 293.09 L170.10 291.00 L170.83 288.95 L171.56 286.96 L172.30 285.01 L173.03 283.11 L173.77 281.25 L174.50 279.43 L175.23 277.66 L175.97 275.92 L176.70 274.22 L177.44 272.56 L178.17 270.94 L178.90 269.35 L179.64 267.79 L180.37 266.27 L181.11 264.78 L181.84 263.33 L182.57 261.90 L183.31 260.50 L184.04 259.14 L184.78 257.80 L185.51 256.48 L186.25 255.20 L186.98 253.94 L187.71 252.70 L188.45 251.49 L189.18 250.31 L189.92 249.14 L190.65 248.00 L191.38 246.88 L192.12 245.79 L192.85 244.71 L193.59 243.66 L194.32 242.62 L195.05 241.60 L195.79 240.61 L196.52 239.63 L197.26 238.67 L197.99 237.72 L198.72 236.80 L199.46 235.89 L200.19 235.00 L200.93 234.12 L201.66 233.26 L202.39 232.41 L203.13 231.58 L203.86 230.76 L204.60 229.96 L205.33 229.17 L206.07 228.40 L206.80 227.63 L207.53 226.89 L208.27 226.15 L209.00 225.43 L209.74 224.71 L210.47 224.01 L211.20 223.32 L211.94 222.65 L212.67 221.98 L213.41 221.32 L214.14 220.68 L214.87 220.04 L215.61 219.42 L216.34 218.81 L217.08 218.20 L217.81 217.61 L218.54 217.02 L219.28 216.44 L220.01 215.87 L220.75 215.31 L221.48 214.76 L222.21 214.22 L222.95 213.69 L223.68 213.16 L224.42 212.64 L225.15 212.13 L225.88 211.63 L226.62 211.13 L227.35 210.65 L228.09 210.17 L228.82 209.69 L229.56 209.22 L230.29 208.76 L231.02 208.31 L231.76 207.86 L232.49 207.42 L233.23 206.99 L233.96 206.56 L234.69 206.14 L235.43 205.72 L236.16 205.31 L236.90 204.90 L237.63 204.50 L238.36 204.11 L239.10 203.72 L239.83 203.34 L240.57 202.96 L241.30 202.59 L242.03 202.22 L242.77 201.85 L243.50 201.49 L244.24 201.14 L244.97 200.79 L245.70 200.45 L246.44 200.11 L247.17 199.77 L247.91 199.44 L248.64 199.11 L249.38 198.79 L250.11 198.47 L250.84 198.16 L251.58 197.85 L252.31 197.54 L253.05 197.24 L253.78 196.94 L254.51 196.64 L255.25 196.35 L255.98 196.06 L256.72 195.78 L257.45 195.50 L258.18 195.22 L258.92 194.95 L259.65 194.67 L260.39 194.41 L261.12 194.14 L261.85 193.88 L262.59 193.62 L263.32 193.37 L264.06 193.12 L264.79 192.87 L265.52 192.62 L266.26 192.38 L266.99 192.14 L267.73 191.90 L268.46 191.66 L269.19 191.43 L269.93 191.20 L270.66 190.97 L271.40 190.75 L272.13 190.53 L272.87 190.31 L273.60 190.09 L274.33 189.88 L275.07 189.66 L275.80 189.45 L276.54 189.25 L277.27 189.04 L278.00 188.84 L278.74 188.64 L279.47 188.44 L280.21 188.24 L280.94 188.05 L281.67 187.86 L282.41 187.67 L283.14 187.48 L283.88 187.29 L284.61 187.11 L285.34 186.93 L286.08 186.75 L286.81 186.57 L287.55 186.39 L288.28 186.22 L289.01 186.05 L289.75 185.87 L290.48 185.71 L291.22 185.54 L291.95 185.37 L292.69 185.21 L293.42 185.05 L294.15 184.89 L294.89 184.73 L295.62 184.57 L296.36 184.41 L297.09 184.26 L297.82 184.11 L298.56 183.95 L299.29 183.80 L300.03 183.66 L300.76 183.51 L301.49 183.36 L302.23 183.22 L302.96 183.08 L303.70 182.94 L304.43 182.80 L305.16 182.66 L305.90 182.52 L306.63 182.39 L307.37 182.25 L308.10 182.12 L308.83 181.99 L309.57 181.86 L310.30 181.73 L311.04 181.60 L311.77 181.47 L312.51 181.35 L313.24 181.22 L313.97 181.10 L314.71 180.98 L315.44 180.85 L316.18 180.73 L316.91 180.62 L317.64 180.50 L318.38 180.38 L319.11 180.26 L319.85 180.15 L320.58 180.04 L321.31 179.92 L322.05 179.81 L322.78 179.70 L323.52 179.59 L324.25 179.48 L324.98 179.38 L325.72 179.27 L326.45 179.16 L327.19 179.06 L327.92 178.96 L328.65 178.85 L329.39 178.75 L330.12 178.65 L330.86 178.55 L331.59 178.45 L332.32 178.35 L333.06 178.25 L333.79 178.16 L334.53 178.06 L335.26 177.96 L336.00 177.87 L336.73 177.78 L337.46 177.68 L338.20 177.59 L338.93 177.50 L339.67 177.41 L340.40 177.32 L341.13 177.23 L341.87 177.14 L342.60 177.06 L343.34 176.97 L344.07 176.88 L344.80 176.80 L345.54 176.71 L346.27 176.63 L347.01 176.55 L347.74 176.46 L348.47 176.38 L349.21 176.30 L349.94 176.22 L350.68 176.14 L351.41 176.06 L352.14 175.98 L352.88 175.90 L353.61 175.83 L354.35 175.75 L355.08 175.67 L355.82 175.60 L356.55 175.52 L357.28 175.45 L358.02 175.37 L358.75 175.30 L359.49 175.23 L360.22 175.16 L360.95 175.08 L361.69 175.01 L362.42 174.94 L363.16 174.87 L363.89 174.80 L364.62 174.73 L365.36 174.67 L366.09 174.60 L366.83 174.53 L367.56 174.46 L368.29 174.40 L369.03 174.33 L369.76 174.27 L370.50 174.20 L371.23 174.14 L371.96 174.07 L372.70 174.01 L373.43 173.95 L374.17 173.89 L374.90 173.82 L375.63 173.76 L376.37 173.70 L377.10 173.64 L377.84 173.58 L378.57 173.52 L379.31 173.46 L380.04 173.40 L380.77 173.35 L381.51 173.29 L382.24 173.23 L382.98 173.17 L383.71 173.12 L384.44 173.06 L385.18 173.00 L385.91 172.95 L386.65 172.89 L387.38 172.84 L388.11 172.78 L388.85 172.73 L389.58 172.68 L390.32 172.62 L391.05 172.57 L391.78 172.52 L392.52 172.47 L393.25 172.41 L393.99 172.36 L394.72 172.31 L395.45 172.26 L396.19 172.21 L396.92 172.16 L397.66 172.11 L398.39 172.06 L399.13 172.01 L399.86 171.96 L400.59 171.92 L401.33 171.87 L402.06 171.82 L402.80 171.77 L403.53 171.73 L404.26 171.68 L405.00 171.63 L405.73 171.59 L406.47 171.54 L407.20 171.50 L407.93 171.45 L408.67 171.41 L409.40 171.36 L410.14 171.32 L410.87 171.27 L411.60 171.23 L412.34 171.19 L413.07 171.14 L413.81 171.10 L414.54 171.06 L415.27 171.02 L416.01 170.97 L416.74 170.93 L417.48 170.89 L418.21 170.85 L418.94 170.81 L419.68 170.77 L420.41 170.73 L421.15 170.69 L421.88 170.65 L422.62 170.61 L423.35 170.57 L424.08 170.53 L424.82 170.49 L425.55 170.45 L426.29 170.42 L427.02 170.38 L427.75 170.34 L428.49 170.30 L429.22 170.26 L429.96 170.23 L430.69 170.19 L431.42 170.15 L432.16 170.12 L432.89 170.08 L433.63 170.04 L434.36 170.01 L435.09 169.97 L435.83 169.94 L436.56 169.90 L437.30 169.87 L438.03 169.83 L438.76 169.80 L439.50 169.76 L440.23 169.73 L440.97 169.70 L441.70 169.66 L442.44 169.63 L443.17 169.60 L443.90 169.56 L444.64 169.53 L445.37 169.50 L446.11 169.47 L446.84 169.43 L447.57 169.40 L448.31 169.37 L449.04 169.34 L449.78 169.31 L450.51 169.27 L451.24 169.24 L451.98 169.21 L452.71 169.18 L453.45 169.15 L454.18 169.12 L454.91 169.09 L455.65 169.06 L456.38 169.03 L457.12 169.00 L457.85 168.97 L458.58 168.94 L459.32 168.91 L460.05 168.88 L460.79 168.85 L461.52 168.83 L462.25 168.80 L462.99 168.77 L463.72 168.74 L464.46 168.71 L465.19 168.68 L465.93 168.66 L466.66 168.63 L467.39 168.60 L468.13 168.57 L468.86 168.55 L469.60 168.52 L470.33 168.49 L471.06 168.47 L471.80 168.44 L472.53 168.41 L473.27 168.39 L474.00 168.36" stroke="#ffff00" stroke-dasharray="2.78,2.08,0.69,2.08"/>
<path d="M107.70 399.43 L108.43 393.69 L109.17 388.22 L109.90 383.00 L110.64 378.01 L111.37 373.25 L112.10 368.69 L112.84 364.32 L113.57 360.13 L114.31 356.11 L115.04 352.25 L115.77 348.54 L116.51 344.97 L117.24 341.54 L117.98 338.23 L118.71 335.04 L119.45 331.96 L120.18 328.99 L120.91 326.13 L121.65 323.35 L122.38 320.68 L123.12 318.08 L123.85 315.57 L124.58 313.14 L125.32 310.79 L126.05 308.51 L126.79 306.29 L127.52 304.14 L128.25 302.06 L128.99 300.03 L129.72 298.06 L130.46 296.15 L131.19 294.29 L131.92 292.48 L132.66 290.72 L133.39 289.00 L134.13 287.33 L134.86 285.71 L135.59 284.12 L136.33 282.58 L137.06 281.07 L137.80 279.60 L138.53 278.17 L139.26 276.77 L140.00 275.40 L140.73 274.07 L141.47 272.76 L142.20 271.49 L142.94 270.24 L143.67 269.03 L144.40 267.84 L145.14 266.67 L145.87 265.53 L146.61 264.42 L147.34 263.33 L148.07 262.26 L148.81 261.21 L149.54 260.19 L150.28 259.18 L151.01 258.20 L151.74 257.24 L152.48 256.29 L153.21 255.36 L153.95 254.46 L154.68 253.56 L155.41 252.69 L156.15 251.83 L156.88 250.99 L157.62 250.16 L158.35 249.35 L159.08 248.56 L159.82 247.77 L160.55 247.01 L161.29 246.25 L162.02 245.51 L162.76 244.78 L163.49 244.06 L164.22 243.36 L164.96 242.67 L165.69 241.99 L166.43 241.32 L167.16 240.66 L167.89 240.01 L168.63 239.37 L169.36 238.75 L170.10 238.13 L170.83 237.52 L171.56 236.92 L172.30 236.34 L173.03 235.76 L173.77 235.19 L174.50 234.63 L175.23 234.07 L175.97 233.53 L176.70 232.99 L177.44 232.46 L178.17 231.94 L178.90 231.43 L179.64 230.92 L180.37 230.42 L181.11 229.93 L181.84 229.45 L182.57 228.97 L183.31 228.50 L184.04 228.03 L184.78 227.57 L185.51 227.12 L186.25 226.67 L186.98 226.23 L187.71 225.80 L188.45 225.37 L189.18 224.95 L189.92 224.53 L190.65 224.12 L191.38 223.71 L192.12 223.31 L192.85 222.92 L193.59 222.53 L194.32 222.14 L195.05 221.76 L195.79 221.38 L196.52 221.01 L197.26 220.64 L197.99 220.28 L198.72 219.92 L199.46 219.57 L200.19 219.22 L200.93 218.87 L201.66 218.53 L202.39 218.19 L203.13 217.86 L203.86 217.53 L204.60 217.20 L205.33 216.88 L206.07 216.56 L206.80 216.25 L207.53 215.94 L208.27 215.63 L209.00 215.33 L209.74 215.03 L210.47 214.73 L211.20 214.43 L211.94 214.14 L212.67 213.86 L213.41 213.57 L214.14 213.29 L214.87 213.01 L215.61 212.74 L216.34 212.46 L217.08 212.19 L217.81 211.93 L218.54 211.66 L219.28 211.40 L220.01 211.14 L220.75 210.89 L221.48 210.63 L222.21 210.38 L222.95 210.13 L223.68 209.89 L224.42 209.64 L225.15 209.40 L225.88 209.16 L226.62 208.93 L227.35 208.69 L228.09 208.46 L228.82 208.23 L229.56 208.01 L230.29 207.78 L231.02 207.56 L231.76 207.34 L232.49 207.12 L233.23 206.90 L233.96 206.69 L234.69 206.48 L235.43 206.27 L236.16 206.06 L236.90 205.85 L237.63 205.65 L238.36 205.44 L239.10 205.24 L239.83 205.04 L240.57 204.85 L241.30 204.65 L242.03 204.46 L242.77 204.27 L243.50 204.07 L244.24 203.89 L244.97 203.70 L245.70 203.51 L246.44 203.33 L247.17 203.15 L247.91 202.97 L248.64 202.79 L249.38 202.61 L250.11 202.43 L250.84 202.26 L251.58 202.09 L252.31 201.92 L253.05 201.75 L253.78 201.58 L254.51 201.41 L255.25 201.24 L255.98 201.08 L256.72 200.92 L257.45 200.75 L258.18 200.59 L258.92 200.43 L259.65 200.28 L260.39 200.12 L261.12 199.96 L261.85 199.81 L262.59 199.66 L263.32 199.51 L264.06 199.35 L264.79 199.21 L265.52 199.06 L266.26 198.91 L266.99 198.76 L267.73 198.62 L268.46 198.48 L269.19 198.33 L269.93 198.19 L270.66 198.05 L271.40 197.91 L272.13 197.77 L272.87 197.64 L273.60 197.50 L274.33 197.37 L275.07 197.23 L275.80 197.10 L276.54 196.97 L277.27 196.83 L278.00 196.70 L278.74 196.58 L279.47 196.45 L280.21 196.32 L280.94 196.19 L281.67 196.07 L282.41 195.94 L283.14 195.82 L283.88 195.70 L284.61 195.57 L285.34 195.45 L286.08 195.33 L286.81 195.21 L287.55 195.09 L288.28 194.98 L289.01 194.86 L289.75 194.74 L290.48 194.63 L291.22 194.51 L291.95 194.40 L292.69 194.29 L293.42 194.17 L294.15 194.06 L294.89 193.95 L295.62 193.84 L296.36 193.73 L297.09 193.62 L297.82 193.52 L298.56 193.41 L299.29 193.30 L300.03 193.20 L300.76 193.09 L301.49 192.99 L302.23 192.89 L302.96 192.78 L303.70 192.68 L304.43 192.58 L305.16 192.48 L305.90 192.38 L306.63 192.28 L307.37 192.18 L308.10 192.08 L308.83 191.98 L309.57 191.89 L310.30 191.79 L311.04 191.69 L311.77 191.60 L312.51 191.50 L313.24 191.41 L313.97 191.32 L314.71 191.22 L315.44 191.13 L316.18 191.04 L316.91 190.95 L317.64 190.86 L318.38 190.77 L319.11 190.68 L319.85 190.59 L320.58 190.50 L321.31 190.41 L322.05 190.32 L322.78 190.24 L323.52 190.15 L324.25 190.07 L324.98 189.98 L325.72 189.89 L326.45 189.81 L327.19 189.73 L327.92 189.64 L328.65 189.56 L329.39 189.48 L330.12 189.40 L330.86 189.31 L331.59 189.23 L332.32 189.15 L333.06 189.07 L333.79 188.99 L334.53 188.91 L335.26 188.84 L336.00 188.76 L336.73 188.68 L337.46 188.60 L338.20 188.53 L338.93 188.45 L339.67 188.37 L340.40 188.30 L341.13 188.22 L341.87 188.15 L342.60 188.07 L343.34 188.00 L344.07 187.93 L344.80 187.85 L345.54 187.78 L346.27 187.71 L347.01 187.64 L347.74 187.56 L348.47 187.49 L349.21 187.42 L349.94 187.35 L350.68 187.28 L351.41 187.21 L352.14 187.14 L352.88 187.07 L353.61 187.01 L354.35 186.94 L355.08 186.87 L355.82 186.80 L356.55 186.74 L357.28 186.67 L358.02 186.60 L358.75 186.54 L359.49 186.47 L360.22 186.41 L360.95 186.34 L361.69 186.28 L362.42 186.21 L363.16 186.15 L363.89 186.08 L364.62 186.02 L365.36 185.96 L366.09 185.89 L366.83 185.83 L367.56 185.77 L368.29 185.71 L369.03 185.65 L369.76 185.59 L370.50 185.52 L371.23 185.46 L371.96 185.40 L372.70 185.34 L373.43 185.28 L374.17 185.23 L374.90 185.17 L375.63 185.11 L376.37 185.05 L377.10 184.99 L377.84 184.93 L378.57 184.88 L379.31 184.82 L380.04 184.76 L380.77 184.70 L381.51 184.65 L382.24 184.59 L382.98 184.54 L383.71 184.48 L384.44 184.42 L385.18 184.37 L385.91 184.31 L386.65 184.26 L387.38 184.21 L388.11 184.15 L388.85 184.10 L389.58 184.04 L390.32 183.99 L391.05 183.94 L391.78 183.88 L392.52 183.83 L393.25 183.78 L393.99 183.73 L394.72 183.68 L395.45 183.62 L396.19 183.57 L396.92 183.52 L397.66 183.47 L398.39 183.42 L399.13 183.37 L399.86 183.32 L400.59 183.27 L401.33 183.22 L402.06 183.17 L402.80 183.12 L403.53 183.07 L404.26 183.02 L405.00 182.97 L405.73 182.93 L406.47 182.88 L407.20 182.83 L407.93 182.78 L408.67 182.73 L409.40 182.69 L410.14 182.64 L410.87 182.59 L411.60 182.55 L412.34 182.50 L413.07 182.45 L413.81 182.41 L414.54 182.36 L415.27 182.32 L416.01 182.27 L416.74 182.22 L417.48 182.18 L418.21 182.13 L418.94 182.09 L419.68 182.05 L420.41 182.00 L421.15 181.96 L421.88 181.91 L422.62 181.87 L423.35 181.83 L424.08 181.78 L424.82 181.74 L425.55 181.70 L426.29 181.65 L427.02 181.61 L427.75 181.57 L428.49 181.52 L429.22 181.48 L429.96 181.44 L430.69 181.40 L431.42 181.36 L432.16 181.32 L432.89 181.27 L433.63 181.23 L434.36 181.19 L435.09 181.15 L435.83 181.11 L436.56 181.07 L437.30 181.03 L438.03 180.99 L438.76 180.95 L439.50 180.91 L440.23 180.87 L440.97 180.83 L441.70 180.79 L442.44 180.75 L443.17 180.71 L443.90 180.67 L444.64 180.64 L445.37 180.60 L446.11 180.56 L446.84 180.52 L447.57 180.48 L448.31 180.45 L449.04 180.41 L449.78 180.37 L450.51 180.33 L451.24 180.29 L451.98 180.26 L452.71 180.22 L453.45 180.18 L454.18 180.15 L454.91 180.11 L455.65 180.07 L456.38 180.04 L457.12 180.00 L457.85 179.97 L458.58 179.93 L459.32 179.89 L460.05 179.86 L460.79 179.82 L461.52 179.79 L462.25 179.75 L462.99 179.72 L463.72 179.68 L464.46 179.65 L465.19 179.61 L465.93 179.58 L466.66 179.54 L467.39 179.51 L468.13 179.48 L468.86 179.44 L469.60 179.41 L470.33 179.37 L471.06 179.34 L471.80 179.31 L472.53 179.27 L473.27 179.24 L474.00 179.21" stroke="#000000" stroke-dasharray="1.39,1.39,1.39,2.78"/>
<path d="M78.00 217.45 L474.00 217.45" stroke="#ff4d00" stroke-dasharray="1.39,1.39,1.39,1.39,1.39,2.78"/>
</g>
<g fill="none" stroke="#000" stroke-width="0.9">
<path d="M78.00 18.50 H474.00 V304.20 H78.00 Z"/>
<path d="M127.50 304.20 v-4.40 M127.50 18.50 v4.40 M78.00 268.49 h4.40 M474.00 268.49 h-4.40 M177.00 304.20 v-4.40 M177.00 18.50 v4.40 M78.00 232.77 h4.40 M474.00 232.77 h-4.40 M226.50 304.20 v-4.40 M226.50 18.50 v4.40 M78.00 197.06 h4.40 M474.00 197.06 h-4.40 M276.00 304.20 v-4.40 M276.00 18.50 v4.40 M78.00 161.35 h4.40 M474.00 161.35 h-4.40 M325.50 304.20 v-4.40 M325.50 18.50 v4.40 M78.00 125.64 h4.40 M474.00 125.64 h-4.40 M375.00 304.20 v-4.40 M375.00 18.50 v4.40 M78.00 89.93 h4.40 M474.00 89.93 h-4.40 M424.50 304.20 v-4.40 M424.50 18.50 v4.40 M78.00 54.21 h4.40 M474.00 54.21 h-4.40"/>
</g>
<g fill="#000">
<text transform="translate(78.00 324.70) scale(1 1.035)" text-anchor="middle">0</text>
<text transform="translate(127.50 324.70) scale(1 1.035)" text-anchor="middle">0.5</text>
<text transform="translate(177.00 324.70) scale(1 1.035)" text-anchor="middle">1</text>
<text transform="translate(226.50 324.70) scale(1 1.035)" text-anchor="middle">1.5</text>
<text transform="translate(276.00 324.70) scale(1 1.035)" text-anchor="middle">2</text>
<text transform="translate(325.50 324.70) scale(1 1.035)" text-anchor="middle">2.5</text>
<text transform="translate(375.00 324.70) scale(1 1.035)" text-anchor="middle">3</text>
<text transform="translate(424.50 324.70) scale(1 1.035)" text-anchor="middle">3.5</text>
<text transform="translate(474.00 324.70) scale(1 1.035)" text-anchor="middle">4</text>
<text transform="translate(69.30 309.20) scale(1 1.035)" text-anchor="end">-2</text>
<text transform="translate(69.30 273.49) scale(1 1.035)" text-anchor="end">-1.5</text>
<text transform="translate(69.30 237.77) scale(1 1.035)" text-anchor="end">-1</text>
<text transform="translate(69.30 202.06) scale(1 1.035)" text-anchor="end">-0.5</text>
<text transform="translate(69.30 166.35) scale(1 1.035)" text-anchor="end">0</text>
<text transform="translate(69.30 130.64) scale(1 1.035)" text-anchor="end">0.5</text>
<text transform="translate(69.30 94.93) scale(1 1.035)" text-anchor="end">1</text>
<text transform="translate(69.30 59.21) scale(1 1.035)" text-anchor="end">1.5</text>
<text transform="translate(69.30 23.50) scale(1 1.035)" text-anchor="end">2</text>
<text transform="translate(276.20 347.40) scale(1 1.035)" text-anchor="middle">r/R</text>
<text transform="translate(19.00 168.20) rotate(-90) scale(1 1.035)" text-anchor="start">A<tspan dy="4.58" style="font-size:12.24px">r</tspan></text>
</g>
<text transform="translate(405.50 35.50) scale(1 1.035)" text-anchor="end" fill="#ff0000">n=1 con</text>
<path d="M414.80 30.50 H456.00" fill="none" stroke="#ff0000" stroke-width="0.62"/>
<text transform="translate(405.50 50.76) scale(1 1.035)" text-anchor="end" fill="#00ff00">n=0 con</text>
<path d="M414.80 45.76 H456.00" fill="none" stroke="#00ff00" stroke-width="0.62" stroke-dasharray="2.78,1.39"/>
<text transform="translate(405.50 66.02) scale(1 1.035)" text-anchor="end" fill="#0000ff">n=-1 con</text>
<path d="M414.80 61.02 H456.00" fill="none" stroke="#0000ff" stroke-width="0.62" stroke-dasharray="1.39,2.08"/>
<text transform="translate(405.50 81.28) scale(1 1.035)" text-anchor="end" fill="#ff00ff">n=-2 con</text>
<path d="M414.80 76.28 H456.00" fill="none" stroke="#ff00ff" stroke-width="0.62" stroke-dasharray="0.69,1.04"/>
<text transform="translate(405.50 96.54) scale(1 1.035)" text-anchor="end" fill="#00ffff">n=1 unc</text>
<path d="M414.80 91.54 H456.00" fill="none" stroke="#00ffff" stroke-width="0.62" stroke-dasharray="3.47,1.39,0.69,1.39"/>
<text transform="translate(405.50 111.80) scale(1 1.035)" text-anchor="end" fill="#ffff00">n=0 unc</text>
<path d="M414.80 106.80 H456.00" fill="none" stroke="#ffff00" stroke-width="0.62" stroke-dasharray="2.78,2.08,0.69,2.08"/>
<text transform="translate(405.50 127.06) scale(1 1.035)" text-anchor="end" fill="#000000">n=-1 unc</text>
<path d="M414.80 122.06 H456.00" fill="none" stroke="#000000" stroke-width="0.62" stroke-dasharray="1.39,1.39,1.39,2.78"/>
<text transform="translate(405.50 142.32) scale(1 1.035)" text-anchor="end" fill="#ff4d00">n=-2 unc</text>
<path d="M414.80 137.32 H456.00" fill="none" stroke="#ff4d00" stroke-width="0.62" stroke-dasharray="1.39,1.39,1.39,1.39,1.39,2.78"/>
</svg></body></html>
